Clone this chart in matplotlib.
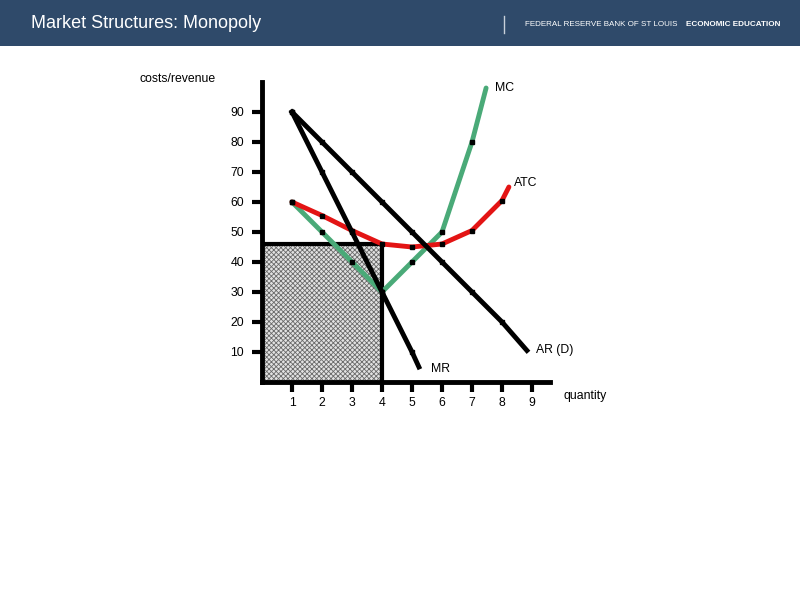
import matplotlib
matplotlib.use("Agg")
from matplotlib import pyplot as plt
from matplotlib.patches import Rectangle

plt.rcParams['font.family'] = ['Liberation Sans', 'DejaVu Sans']
plt.rcParams['hatch.linewidth'] = 0.6

# demand / average revenue
ar_q = [1, 2, 3, 4, 5, 6, 7, 8, 8.83]
ar_p = [90, 80, 70, 60, 50, 40, 30, 20, 10.5]

# marginal revenue
mr_q = [1, 2, 3, 4, 5, 5.23]
mr_p = [90, 70, 50, 30, 10, 5]

# marginal cost
mc_q = [1, 2, 3, 4, 5, 6, 7, 7.47]
mc_p = [60, 50, 40, 30, 40, 50, 80, 98]

# average total cost
atc_q = [1, 2, 3, 4, 5, 6, 7, 8, 8.23]
atc_p = [60, 55.5, 50.5, 46, 45, 46, 50.5, 60.5, 65]

# profit box (quantity 4, price at atc)
box_q = 4
box_p = 46

x_ticks = [1, 2, 3, 4, 5, 6, 7, 8, 9]
y_ticks = [10, 20, 30, 40, 50, 60, 70, 80, 90]

fig = plt.figure(figsize=(8, 6), dpi=100)

# header band
fig.patches.append(Rectangle((0, 554 / 600), 1, 46 / 600, transform=fig.transFigure,
                             facecolor='#2f4a6a', edgecolor='none', zorder=0))
fig.text(31 / 800, 1 - 24 / 600, 'Market Structures: Monopoly', color='white',
         fontsize=13, va='center', ha='left')
fig.lines.append(plt.Line2D([504 / 800, 504 / 800], [1 - 16 / 600, 1 - 33 / 600],
                            transform=fig.transFigure, color='#c8d0da', lw=1))
fig.text(525 / 800, 1 - 25 / 600, 'FEDERAL RESERVE BANK OF ST LOUIS', color='white',
         fontsize=5.8, va='center', ha='left')
fig.text(686 / 800, 1 - 25 / 600, 'ECONOMIC EDUCATION', color='white',
         fontsize=5.9, va='center', ha='left', fontweight='bold')

ax = fig.add_axes([262 / 800, 218 / 600, 288 / 800, 300 / 600])
ax.set_xlim(0, 9.6)
ax.set_ylim(0, 100)

# shaded profit rectangle
ax.add_patch(Rectangle((0, 0), box_q, box_p, facecolor='#e2e2e2', edgecolor='#6a6a6a',
                       hatch='xxxxxxx', lw=0, zorder=1))
ax.plot([0, box_q, box_q], [box_p, box_p, 0], color='black', lw=3, zorder=2,
        solid_capstyle='butt')

ax.plot(mc_q, mc_p, color='#4aaa78', lw=3.5, zorder=3, solid_capstyle='round')
ax.plot(atc_q, atc_p, color='#e31414', lw=3.5, zorder=4, solid_capstyle='round')
ax.plot(ar_q, ar_p, color='black', lw=3.5, zorder=5)
ax.plot(mr_q, mr_p, color='black', lw=3.5, zorder=5)

# small square markers on data points
for q, p in [(ar_q[:-1], ar_p[:-1]), (mr_q[:-1], mr_p[:-1]),
             (mc_q[:-1], mc_p[:-1]), (atc_q[:-1], atc_p[:-1])]:
    ax.plot(q, p, ls='none', marker='s', ms=3.5, color='black', zorder=6)

ax.spines['top'].set_visible(False)
ax.spines['right'].set_visible(False)
ax.spines['left'].set_linewidth(3.5)
ax.spines['bottom'].set_linewidth(3.5)
ax.set_xticks(x_ticks)
ax.set_yticks(y_ticks)
ax.set_xticklabels([str(v) for v in x_ticks])
ax.set_yticklabels([str(v) for v in y_ticks])
ax.tick_params(axis='both', direction='out', length=7, width=3, labelsize=8.8,
               color='black')
ax.tick_params(axis='y', pad=6)
ax.tick_params(axis='x', pad=4)

ax.text(7.75, 98, 'MC', fontsize=8.8, va='center')
ax.text(8.4, 66.5, 'ATC', fontsize=8.8, va='center')
ax.text(9.15, 10.5, 'AR (D)', fontsize=8.8, va='center')
ax.text(5.65, 4.5, 'MR', fontsize=8.8, va='center')
ax.text(10.05, -4.5, 'quantity', fontsize=8.8, va='center', clip_on=False)
ax.text(-4.07, 101, 'costs/revenue', fontsize=8.8, va='center', clip_on=False)

fig.savefig('out.png', dpi=100)
